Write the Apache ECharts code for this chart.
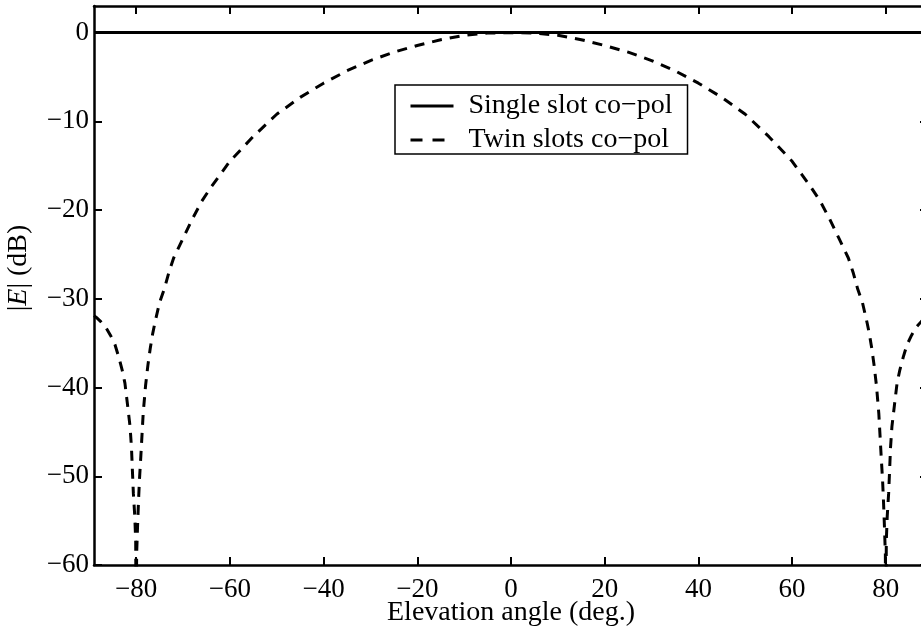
<!DOCTYPE html>
<html>
<head>
<meta charset="utf-8">
<script src="https://cdn.jsdelivr.net/npm/echarts@6/dist/echarts.min.js"></script>
<style>
html,body{margin:0;padding:0;background:#fff;}
#c{width:921px;height:632px;}
</style>
</head>
<body>
<div id="c"></div>
<script>
// ---- data ----
var xTicks = [-80, -60, -40, -20, 0, 20, 40, 60, 80];
var yTicks = [-60, -50, -40, -30, -20, -10, 0];

var singleAngles = [-89, -80, -60, -40, -20, 0, 20, 40, 60, 80, 89];
var singleValues = [0, 0, 0, 0, 0, 0, 0, 0, 0, 0, 0];

var twinAngles = [
  -89, -88.5, -87.5, -86.5, -85.5, -84.5, -83.7, -83, -82.4, -81.9, -81.3, -81, -80.8, -80.6, -80.3, -80.1, -80,
  -79.9, -79.7, -79.5, -79.3, -79, -78.5, -78, -77.5, -77, -76.5, -76, -75, -74, -73, -72, -70, -68, -66, -64, -62, -60,
  -55, -50, -45, -40, -35, -30, -25, -20, -15, -10, -5, 0,
  5, 10, 15, 20, 25, 30, 35, 40, 45, 50, 55,
  60, 62, 64, 66, 68, 70, 72, 73, 74, 75, 76, 76.5, 77, 77.5, 78, 78.5, 79, 79.3, 79.5, 79.7, 79.9,
  80, 80.1, 80.3, 80.6, 80.8, 81, 81.3, 81.9, 82.4, 83, 83.7, 84.5, 85.5, 86.5, 87.5, 88.5, 89
];
var twinValues = [
  -31.9, -32.1, -32.6, -33.2, -34.1, -35.2, -36.6, -38.0, -39.5, -41.7, -44.4, -46.8, -49.4, -51.9, -54.5, -57.3, -70,
  -58.8, -55.6, -52.8, -50.4, -47.7, -42.9, -39.8, -37.5, -35.6, -34.0, -32.7, -30.4, -28.9, -27.0, -25.4, -23.2, -21.0, -19.0, -17.4, -15.95, -14.5,
  -11.7, -9.2, -7.3, -5.7, -4.3, -3.15, -2.2, -1.45, -0.8, -0.3, -0.05, 0,
  -0.05, -0.3, -0.8, -1.45, -2.2, -3.15, -4.3, -5.7, -7.3, -9.2, -11.7,
  -14.5, -15.95, -17.4, -19.0, -21.0, -23.2, -25.4, -27.0, -28.9, -30.4, -32.7, -34.0, -35.6, -37.5, -39.8, -42.9, -47.7, -50.4, -52.8, -55.6, -58.8,
  -70, -57.3, -54.5, -51.9, -49.4, -46.8, -44.4, -41.7, -39.5, -38.0, -36.6, -35.2, -34.1, -33.2, -32.6, -32.1, -31.9
];

var seriesNames = ['Single slot co\u2212pol', 'Twin slots co\u2212pol'];
var xTitle = 'Elevation angle (deg.)';

function zip(a, b) { return a.map(function (v, i) { return [v, b[i]]; }); }
function minus(v) { return String(v).replace('-', '\u2212'); }

var FONT = '"Liberation Serif", "Times New Roman", serif';
var chart = echarts.init(document.getElementById('c'), null, { renderer: 'canvas' });

var axisLine = { show: true, onZero: false, lineStyle: { color: '#000', width: 2.5 } };
var tick = { show: true, inside: true, length: 8, lineStyle: { color: '#000', width: 2 } };

chart.setOption({
  animation: false,
  backgroundColor: '#fff',
  grid: { left: 94, right: -7, top: 6, bottom: 67, containLabel: false, outerBoundsMode: 'none' },
  legend: {
    orient: 'vertical',
    left: 395, top: 85,
    padding: [7, 15, 0, 14],
    itemGap: 6,
    itemWidth: 43, itemHeight: 14,
    borderColor: '#000', borderWidth: 1.5,
    selectedMode: false,
    itemStyle: { color: 'rgba(0,0,0,0)', borderColor: 'rgba(0,0,0,0)', borderWidth: 0, opacity: 0 },
    lineStyle: { width: 3 },
    textStyle: { fontFamily: FONT, fontSize: 28, color: '#000', lineHeight: 28, padding: [0, 0, 0, 10] },
    data: [
      { name: seriesNames[0] },
      { name: seriesNames[1], lineStyle: { type: [12, 10], width: 3 } }
    ]
  },
  xAxis: [{
    type: 'value', min: -89, max: 89, position: 'bottom',
    axisLine: axisLine,
    axisTick: Object.assign({ customValues: xTicks }, tick),
    axisLabel: { customValues: xTicks, formatter: minus, fontFamily: FONT, fontSize: 27, color: '#000', margin: 11 },
    splitLine: { show: false }
  }, {
    type: 'value', min: -89, max: 89, position: 'top',
    axisLine: axisLine,
    axisTick: Object.assign({ customValues: xTicks }, tick),
    axisLabel: { show: false },
    splitLine: { show: false }
  }],
  yAxis: [{
    type: 'value', min: -60, max: 3, position: 'left',
    axisLine: axisLine,
    axisTick: Object.assign({ customValues: yTicks }, tick),
    axisLabel: { customValues: yTicks, formatter: minus, fontFamily: FONT, fontSize: 27, color: '#000', margin: 5 },
    splitLine: { show: false }
  }, {
    type: 'value', min: -60, max: 3, position: 'right',
    axisLine: axisLine,
    axisTick: Object.assign({ customValues: yTicks }, tick),
    axisLabel: { show: false },
    splitLine: { show: false }
  }],
  graphic: [{
    type: 'text', x: 511, y: 613,
    style: { text: xTitle, font: '28px ' + FONT, fill: '#000', textAlign: 'center', textVerticalAlign: 'middle' }
  }, {
    type: 'text', x: 19, y: 268, rotation: Math.PI / 2,
    style: {
      text: '|{i|E}| (dB)', fill: '#000', textAlign: 'center', textVerticalAlign: 'middle',
      font: '28px ' + FONT,
      rich: { i: { fontStyle: 'italic', fontFamily: FONT, fontSize: 28, fill: '#000' } }
    }
  }],
  series: [{
    name: seriesNames[0], type: 'line', xAxisIndex: 0, yAxisIndex: 0,
    data: zip(singleAngles, singleValues), symbol: 'none', clip: true,
    lineStyle: { color: '#000', width: 3, type: 'solid' }, itemStyle: { color: '#000' }
  }, {
    name: seriesNames[1], type: 'line', xAxisIndex: 0, yAxisIndex: 0,
    data: zip(twinAngles, twinValues), symbol: 'none', clip: true,
    lineStyle: { color: '#000', width: 3, type: [10, 8] }, itemStyle: { color: '#000' }
  }]
});
</script>
</body>
</html>
